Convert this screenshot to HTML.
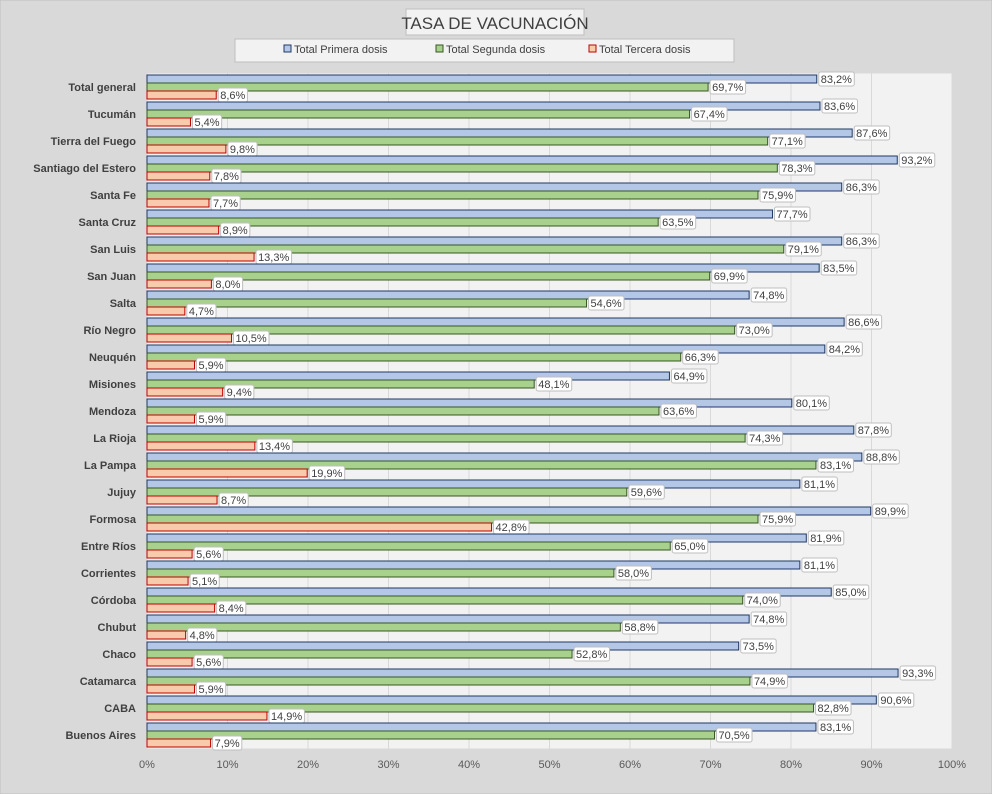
<!DOCTYPE html>
<html><head><meta charset="utf-8"><style>
body{margin:0;background:#d9d9d9;}
svg{display:block;font-family:"Liberation Sans",sans-serif;}
</style></head><body>
<svg id="c" width="992" height="794">
<rect x="0" y="0" width="992" height="794" fill="#d9d9d9" stroke="#bfbfbf"/>
<rect x="147" y="73.5" width="805" height="675" fill="#f2f2f2"/>
<g id="grid"></g><g id="bars"></g>
<rect x="406" y="9" width="178" height="26" fill="#f2f2f2" stroke="#bfbfbf"/>
<text x="495" y="29" text-anchor="middle" font-size="17" fill="#404040">TASA DE VACUNACIÓN</text>
<rect x="235" y="39" width="499" height="23" fill="#f2f2f2" stroke="#bfbfbf"/>
<g><rect x="284" y="45" width="7" height="7" fill="#b4c7e7" stroke="#1f3864"/><text x="294" y="53" font-size="11" fill="#404040">Total Primera dosis</text></g>
<g><rect x="436" y="45" width="7" height="7" fill="#a9d18e" stroke="#385723"/><text x="446" y="53" font-size="11" fill="#404040">Total Segunda dosis</text></g>
<g><rect x="589" y="45" width="7" height="7" fill="#f8cbad" stroke="#c00000"/><text x="599" y="53" font-size="11" fill="#404040">Total Tercera dosis</text></g>
</svg>
<script>
const categories=["Total general","Tucumán","Tierra del Fuego","Santiago del Estero","Santa Fe","Santa Cruz","San Luis","San Juan","Salta","Río Negro","Neuquén","Misiones","Mendoza","La Rioja","La Pampa","Jujuy","Formosa","Entre Ríos","Corrientes","Córdoba","Chubut","Chaco","Catamarca","CABA","Buenos Aires"];
const primera=[83.2,83.6,87.6,93.2,86.3,77.7,86.3,83.5,74.8,86.6,84.2,64.9,80.1,87.8,88.8,81.1,89.9,81.9,81.1,85.0,74.8,73.5,93.3,90.6,83.1];
const segunda=[69.7,67.4,77.1,78.3,75.9,63.5,79.1,69.9,54.6,73.0,66.3,48.1,63.6,74.3,83.1,59.6,75.9,65.0,58.0,74.0,58.8,52.8,74.9,82.8,70.5];
const tercera=[8.6,5.4,9.8,7.8,7.7,8.9,13.3,8.0,4.7,10.5,5.9,9.4,5.9,13.4,19.9,8.7,42.8,5.6,5.1,8.4,4.8,5.6,5.9,14.9,7.9];
const ticks=[0,10,20,30,40,50,60,70,80,90,100];
const NS="http://www.w3.org/2000/svg";
const X0=147,X1=952,Y0=73.5,RH=27;
const xs=v=>X0+(X1-X0)*v/100;
const yc=i=>Y0+RH*i+RH/2;
function mk(t,a,p){const e=document.createElementNS(NS,t);for(const k in a)e.setAttribute(k,a[k]);p.appendChild(e);return e;}
const grid=document.getElementById('grid'),bars=document.getElementById('bars');
ticks.forEach(t=>{
 const l=mk('line',{x1:xs(t),x2:xs(t),y1:Y0,y2:Y0+RH*categories.length,stroke:'#d9d9d9'},grid);
 
 
 const tx=mk('text',{x:xs(t),y:768,'text-anchor':'middle','font-size':11,fill:'#595959'},grid);
 tx.textContent=t+'%';
 
 
});
const series=[[primera,'#b4c7e7','#1f3864','primera'],[segunda,'#a9d18e','#385723','segunda'],[tercera,'#f8cbad','#c00000','tercera']];
categories.forEach((c,i)=>{
 const t=mk('text',{x:136,y:yc(i)+4,'text-anchor':'end','font-size':11,'font-weight':'bold',fill:'#404040'},bars);
 t.textContent=c;
 
 
 series.forEach((s,j)=>{
  const v=s[0][i];const y=yc(i)-12+j*8;
  const r=mk('rect',{x:X0,y:y,width:xs(v)-X0,height:8,fill:s[1],stroke:s[2],'stroke-width':1},bars);
  
  
  const lbl=v.toFixed(1).replace('.',',')+'%';
  const w=lbl.length*6.3+4;
  const b=mk('rect',{x:xs(v)+2,y:y-3,width:w,height:14,rx:2,fill:'#fff',stroke:'#bfbfbf'},bars);
  
  
  const lt=mk('text',{x:xs(v)+4,y:y+8,'font-size':11,fill:'#404040'},bars);
  lt.textContent=lbl;
  
  
 });
});
</script>
</body></html>
